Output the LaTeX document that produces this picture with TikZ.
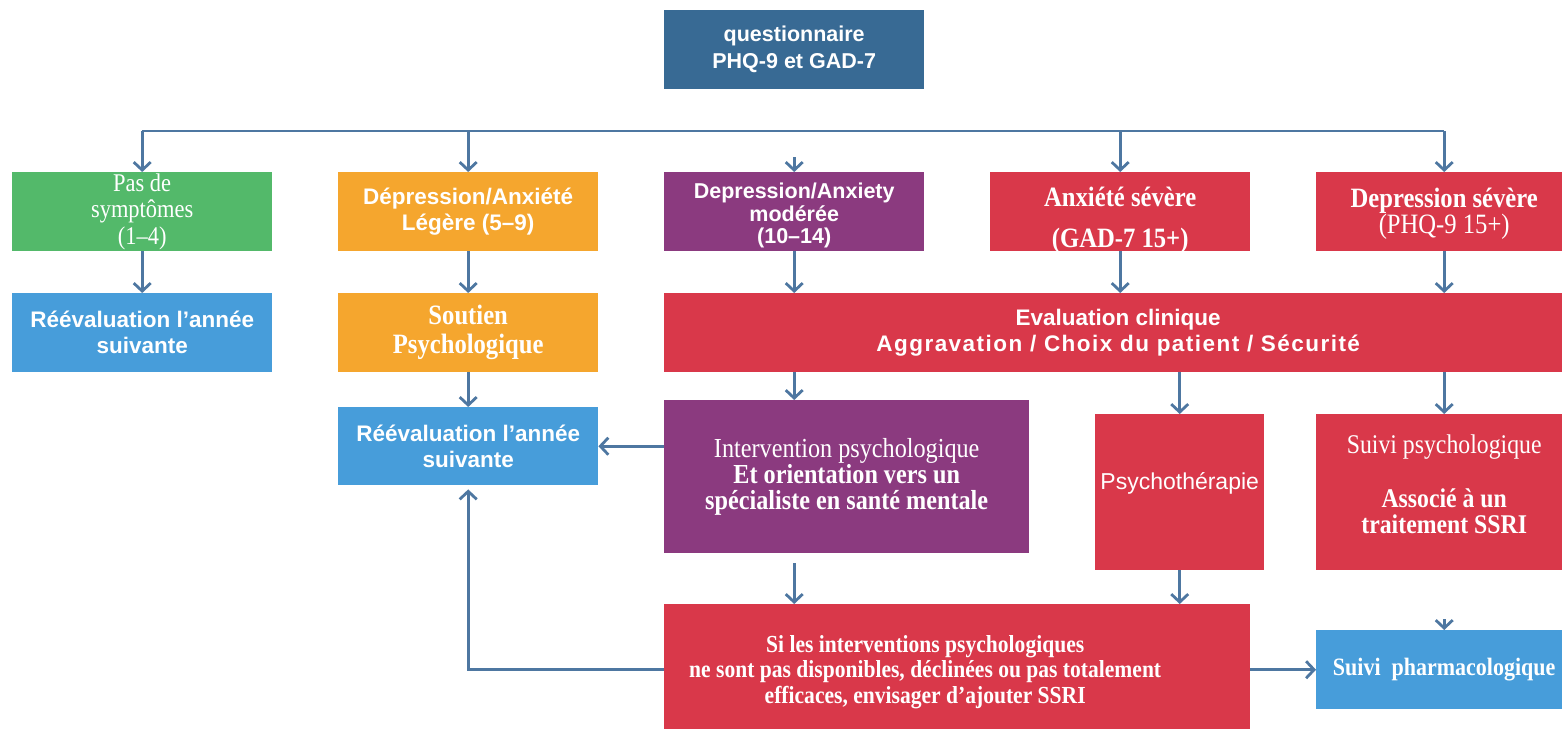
\documentclass[tikz,border=0pt]{standalone}
\usepackage{fontspec}
\setmainfont{Liberation Serif}[FakeStretch=0.88]
\newfontfamily\headsans{Liberation Sans}
\usetikzlibrary{arrows.meta}

\definecolor{topblue}{RGB}{56,106,148}
\definecolor{boxgreen}{RGB}{83,185,106}
\definecolor{boxorange}{RGB}{245,166,46}
\definecolor{boxpurple}{RGB}{139,58,127}
\definecolor{boxred}{RGB}{217,56,74}
\definecolor{boxblue}{RGB}{71,157,218}
\definecolor{linkblue}{RGB}{78,119,161}

\tikzset{
  box/.style={draw=none, anchor=north west, inner sep=0pt, align=center, text=white},
  txt/.style={inner sep=0pt, align=center, text=white},
  std/.style={minimum width=260pt, minimum height=79pt},
  sansbold/.style={font=\headsans\bfseries\fontsize{22.5}{26}\selectfont},
  link/.style={draw=linkblue, line width=2.8pt},
  arr/.style={link, -{Straight Barb[length=8pt,width=17pt,line width=2.8pt]}},
}

\begin{document}
\begin{tikzpicture}[x=1pt,y=-1pt]
\useasboundingbox (0,0) rectangle (1562,729);

% screening questionnaire
\node[box, std, fill=topblue, font=\headsans\bfseries\fontsize{21.5}{27}\selectfont] (quest) at (664,10) {questionnaire\\PHQ-9 et GAD-7};

% severity levels
\node[box, std, fill=boxgreen, font=\fontsize{25.5}{26.5}\selectfont] (none) at (12,172) {Pas de\\symptômes\\(1–4)};
\node[box, std, fill=boxorange, sansbold] (mild) at (338,172) {Dépression/Anxiété\\Légère (5–9)};
\node[box, std, fill=boxpurple] (moder) at (664,172) {};
\node[txt, font=\headsans\bfseries\fontsize{21.5}{22.5}\selectfont] (moderText) at ([yshift=-4pt]moder.center) {Depression/Anxiety\\modérée\\(10–14)};
\node[box, std, fill=boxred] (sevA) at (990,172) {};
\node[txt, font=\bfseries\fontsize{28}{30}\selectfont] (sevAText) at ([yshift=-9pt]sevA.center) {Anxiété sévère\\[11pt](GAD-7 15+)};
\node[box, std, minimum width=256pt, fill=boxred] (sevD) at (1316,172) {};
\node[txt, font=\fontsize{28}{26}\selectfont] (sevDText) at ([yshift=-2pt]sevD.center) {\textbf{Depression sévère}\\(PHQ-9 15+)};

% second row
\node[box, std, fill=boxblue, sansbold] (reevalA) at (12,293) {Réévaluation l’année\\suivante};
\node[box, std, fill=boxorange, font=\bfseries\fontsize{28}{29}\selectfont] (soutien) at (338,293) {Soutien\\Psychologique};
\node[box, std, minimum width=908pt, fill=boxred, sansbold] (evalc) at (664,293) {Evaluation clinique\\{\addfontfeatures{LetterSpace=6.5}Aggravation / Choix du patient / Sécurité}};

% third row
\node[box, std, minimum height=78pt, fill=boxblue, sansbold] (reevalB) at (338,407) {Réévaluation l’année\\suivante};
\node[box, minimum width=365pt, minimum height=153pt, fill=boxpurple, font=\fontsize{27.5}{26}\selectfont] (interv) at (664,400) {Intervention psychologique\\\textbf{Et orientation vers un}\\\textbf{spécialiste en santé mentale}};
\node[box, minimum width=169pt, minimum height=156pt, fill=boxred] (psycho) at (1095,414) {};
\node[txt, font=\headsans\fontsize{23}{26}\selectfont] (psychoText) at ([yshift=9pt]psycho.center) {Psychothérapie};
\node[box, minimum width=256pt, minimum height=156pt, fill=boxred] (suivip) at (1316,414) {};
\node[txt, font=\fontsize{27}{26}\selectfont] (suivipText) at ([yshift=8pt]suivip.center) {Suivi psychologique\\[28pt]\textbf{Associé à un}\\\textbf{traitement SSRI}};

% bottom row
\node[box, minimum width=586pt, minimum height=125pt, fill=boxred] (ssri) at (664,604) {};
\node[txt, font=\bfseries\fontsize{24.5}{25.5}\selectfont] (ssriText) at ([xshift=-32pt,yshift=-5pt]ssri.center) {Si les interventions psychologiques\\ne sont pas disponibles, déclinées ou pas totalement\\efficaces, envisager d’ajouter SSRI};
\node[box, std, minimum width=256pt, fill=boxblue, font=\bfseries\fontsize{25}{27}\selectfont] (pharma) at (1316,630) {Suivi~~pharmacologique};

% distribution bus below the questionnaire
\coordinate (busL) at (none.north |- 0,131);
\coordinate (busR) at (sevD.north |- 0,131);
\coordinate (midTip) at (moder.north |- 0,157);
\draw[link] (busL) -- (busR);
\draw[arr] (busL) -- (none.north);
\draw[arr] (mild.north |- busL) -- (mild.north);
\draw[arr] (midTip) -- (moder.north);
\draw[arr] (sevA.north |- busL) -- (sevA.north);
\draw[arr] (busR) -- (sevD.north);

% first row to second row
\draw[arr] (none.south) -- (reevalA.north);
\draw[arr] (mild.south) -- (soutien.north);
\draw[arr] (moder.south) -- (moder.south |- evalc.north);
\draw[arr] (sevA.south) -- (sevA.south |- evalc.north);
\draw[arr] (sevD.south) -- (sevD.south |- evalc.north);

% second row to third row
\draw[arr] (soutien.south) -- (reevalB.north);
\draw[arr] (moder.south |- evalc.south) -- (moder.south |- interv.north);
\draw[arr] (psycho.north |- evalc.south) -- (psycho.north);
\draw[arr] (sevD.south |- evalc.south) -- (suivip.north);
\draw[arr] (interv.west |- reevalB.east) -- (reevalB.east);

% third row to bottom row
\coordinate (intervOut) at (moder.south |- 0,563);
\coordinate (pharmaTip) at (pharma.north |- 0,619);
\draw[arr] (intervOut) -- (moder.south |- ssri.north);
\draw[arr] (psycho.south) -- (psycho.south |- ssri.north);
\draw[arr] (pharmaTip) -- (pharma.north);
\draw[arr] (ssri.east |- pharma.west) -- (pharma.west);
\draw[arr, shorten >=4pt] (ssri.west |- pharma.west) -| (reevalB.south);
\end{tikzpicture}
\end{document}
